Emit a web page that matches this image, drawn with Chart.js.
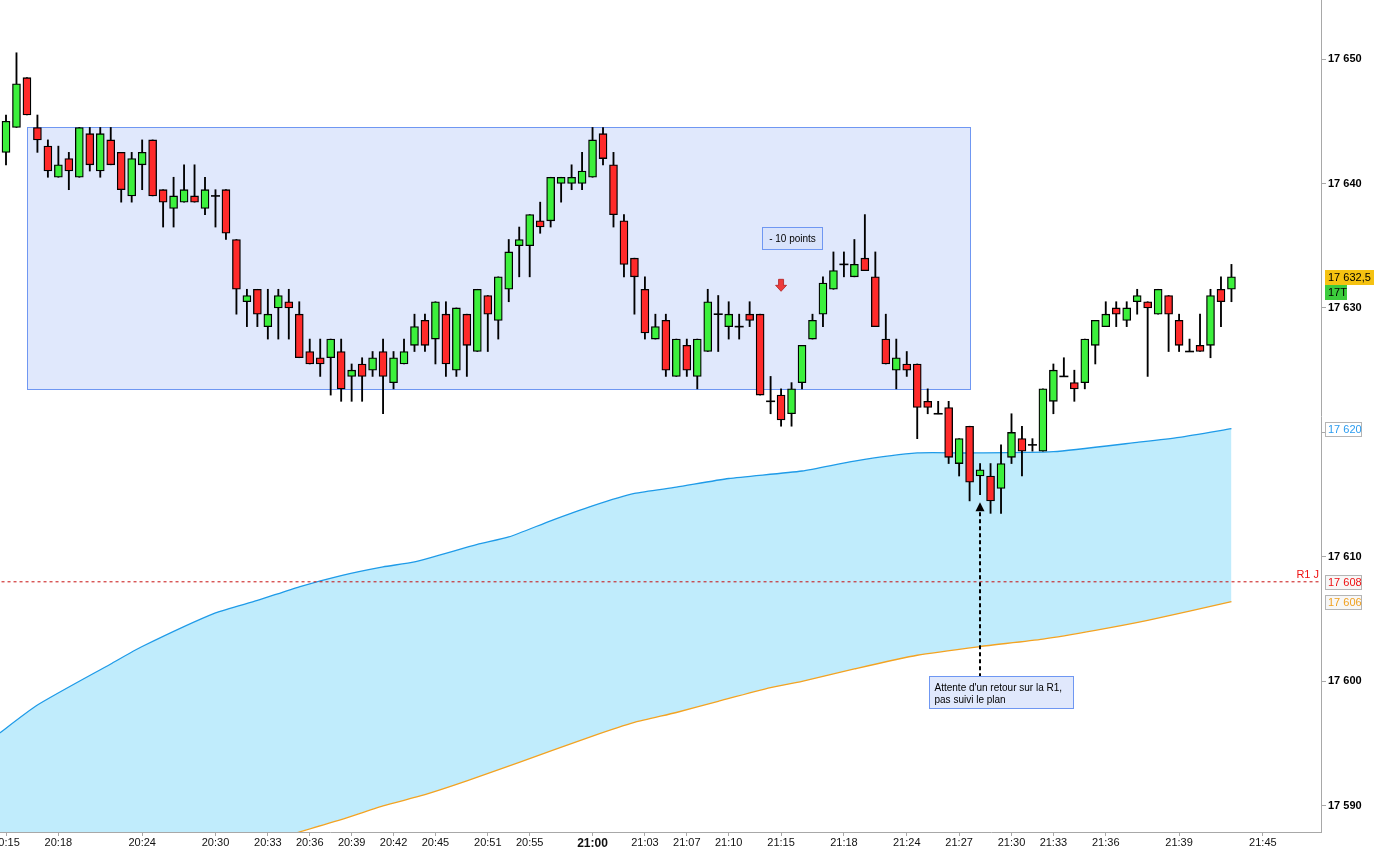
<!DOCTYPE html>
<html><head><meta charset="utf-8">
<script src="https://cdn.jsdelivr.net/npm/chart.js@4.4.1/dist/chart.umd.min.js"></script>
<style>html,body{margin:0;padding:0;background:#fff;overflow:hidden}#wrap{width:1374px;height:847px;position:relative}</style>
</head><body><div id="wrap"><canvas id="c" width="1374" height="847"></canvas></div>
<script>
// ---- Candles (index 0 = 20:15) ----
const opens  = [17642.5,17644.5,17648.5,17644.5,17643,17640.5,17642,17640.5,17644,17641,17643.5,17642.5,17639,17641.5,17643.5,17639.5,17638,17638.5,17639,17638,
17639,17639.5,17635.5,17630.5,17631.5,17628.5,17630,17630.5,17629.5,17626.5,17626,17626,17626.5,17624.5,17625.5,17625,17626.5,17624,17625.5,17627,
17629,17627.5,17629.5,17625,17629.5,17626.5,17631,17629,17631.5,17635,17635,17637,17637,17640,17640,17640,17640.5,17644,17641.5,17637,
17634,17631.5,17627.5,17629,17624.5,17627,17624.5,17626.5,17629.5,17628.5,17628.5,17629.5,17629.5,17622.5,17623,17621.5,17624,17627.5,17629.5,17631.5,
17633.5,17632.5,17634,17632.5,17627.5,17625,17625.5,17625.5,17622.5,17621.5,17622,17617.5,17620.5,17616.5,17616.5,17615.5,17618,17619.5,17619,17618.5,
17622.5,17624.5,17624,17624,17627,17628.5,17630,17629,17630.5,17630.5,17629.5,17631,17629,17626.5,17627,17627,17631.5,17631.5];
const highs  = [17645.5,17650.5,17648.5,17645.5,17643.5,17643,17642.5,17644.5,17644.5,17644.5,17644.5,17642.5,17642.5,17643.5,17643.5,17639.5,17640.5,17641.5,17641.5,17640.5,
17639.5,17639.5,17635.5,17631.5,17631.5,17631.5,17631.5,17631.5,17630.5,17627.5,17627.5,17627.5,17627.5,17625.5,17626,17626.5,17627.5,17626.5,17627.5,17629.5,
17629.5,17630.5,17630.5,17630,17629.5,17631.5,17631,17632.5,17635.5,17636.5,17637.5,17638.5,17640.5,17640.5,17641.5,17642.5,17644.5,17644.5,17642.5,17637.5,
17634,17632.5,17629.5,17629.5,17627.5,17627.5,17627.5,17631.5,17631,17630.5,17629.5,17630.5,17629.5,17624.5,17623.5,17624,17627,17629.5,17632.5,17634.5,
17634.5,17635.5,17637.5,17634.5,17629.5,17627.5,17626.5,17625.5,17623.5,17622.5,17622.5,17619.5,17620.5,17617.5,17617.5,17619,17621.5,17620.5,17619.5,17623.5,
17625.5,17626,17625,17627.5,17629,17630.5,17630.5,17630.5,17631.5,17630.5,17631.5,17631,17629.5,17627.5,17629.5,17631.5,17632.5,17633.5];
const lows   = [17641.5,17644.5,17645.5,17642.5,17640.5,17640.5,17639.5,17640.5,17641,17640.5,17641.5,17638.5,17638.5,17639.5,17639,17636.5,17636.5,17638.5,17638.5,17637.5,
17636.5,17635.5,17629.5,17628.5,17628.5,17627.5,17627.5,17627.5,17626,17625.5,17624.5,17623,17622.5,17622.5,17622.5,17624.5,17621.5,17623.5,17625.5,17626.5,
17626.5,17625.5,17624.5,17624.5,17624.5,17626.5,17626.5,17627.5,17630.5,17632.5,17632.5,17636,17636.5,17638.5,17639.5,17639.5,17640.5,17641.5,17636.5,17632.5,
17629.5,17627.5,17627.5,17624.5,17624.5,17624.5,17623.5,17626.5,17626.5,17627.5,17627.5,17628.5,17623,17621.5,17620.5,17620.5,17623.5,17627.5,17628.5,17631.5,
17632.5,17632.5,17633,17628.5,17625.5,17623.5,17624.5,17619.5,17621.5,17621.5,17617.5,17616.5,17614.5,17615,17613.5,17613.5,17617.5,17616.5,17618.5,17618.5,
17621.5,17624.5,17622.5,17623.5,17625.5,17628.5,17628.5,17628.5,17629.5,17624.5,17629.5,17626.5,17626.5,17626.5,17626.5,17626,17628.5,17630.5];
const closes = [17645,17648,17645.5,17643.5,17641,17641.5,17641,17644.5,17641.5,17644,17641.5,17639.5,17642,17642.5,17639,17638.5,17639,17639.5,17638.5,17639.5,
17639,17636,17631.5,17631,17629.5,17629.5,17631,17630,17626,17625.5,17625.5,17627.5,17623.5,17625,17624.5,17626,17624.5,17626,17626.5,17628.5,
17627,17630.5,17625.5,17630,17627,17631.5,17629.5,17632.5,17634.5,17635.5,17637.5,17636.5,17640.5,17640.5,17640.5,17641,17643.5,17642,17637.5,17633.5,
17632.5,17628,17628.5,17625,17627.5,17625,17627.5,17630.5,17629.5,17629.5,17628.5,17629,17623,17622.5,17621,17623.5,17627,17629,17632,17633,
17633.5,17633.5,17633,17628.5,17625.5,17626,17625,17622,17622,17621.5,17618,17619.5,17616,17617,17614.5,17617.5,17620,17618.5,17619,17623.5,
17625,17624.5,17623.5,17627.5,17629,17629.5,17629.5,17630,17631,17630,17631.5,17629.5,17627,17626.5,17626.5,17631,17630.5,17632.5];

// ---- Axis ticks ----
const xTickIndex  = [0,5,13,20,25,29,33,37,41,46,50,56,61,65,69,74,80,86,91,96,100,105,112,120];
const xTickLabels = ['20:15','20:18','20:24','20:30','20:33','20:36','20:39','20:42','20:45','20:51','20:55','21:00','21:03','21:07','21:10','21:15','21:18','21:24','21:27','21:30','21:33','21:36','21:39','21:45'];
const yTicks = [17590,17600,17610,17620,17630,17640,17650];

// ---- Bands (read at sample positions) ----
const upperIdx = [-1,3,10,13,20,24,28,32,36,39,45,48,52,56,60,64,69,76,81,87,92,100,108,112,117];
const upperVal = [17595.6,17598.1,17601.4,17602.8,17605.5,17606.5,17607.6,17608.5,17609.2,17609.6,17611.0,17611.6,17612.9,17614.1,17615.1,17615.6,17616.3,17616.9,17617.7,17618.35,17618.35,17618.45,17619.2,17619.6,17620.3];
const lowerIdx = [-1,10,20,28,32,36,40,44,49,56,60,64,68,73,76,81,87,93,99,104,109,117];
const lowerVal = [17580.8,17583.2,17585.6,17587.9,17588.9,17590.0,17590.9,17592.0,17593.5,17595.6,17596.7,17597.5,17598.4,17599.5,17600.0,17601.0,17602.1,17602.8,17603.4,17604.1,17604.9,17606.4];
const r1Level = 17608;

// ---- Annotations (data units) ----
const zone = {x0:2, x1:92, top:17644.5, bottom:17623.5};
const noteTop = {x0:72.2, x1:77.9, top:17636.5, bottom:17634.75, text:'- 10 points'};
const redArrow = {x:74, y:17632.3};
const noteBottom = {x0:88.1, x1:101.9, top:17600.45, bottom:17597.85, lines:["Attente d'un retour sur la R1,", 'pas suivi le plan']};
const upArrow = {x:93, y:17614.4};

const GREEN='#3cf03c', RED='#ff2a2a';
const FONT='"Liberation Sans", Arial, sans-serif';
const N = opens.length;
const bodyData=[], wickData=[], dojiData=[];
for (let i=0;i<N;i++){
  wickData.push({x:i, y:[lows[i], highs[i]]});
  if (opens[i]===closes[i]) dojiData.push({x:i, y:opens[i]});
  else bodyData.push({x:i, y:[opens[i], closes[i]]});
}
const fmt = v => { const s = String(v).replace('.', ','); const [a,b] = s.split(','); return a.replace(/\B(?=(\d{3})+(?!\d))/g,' ') + (b?','+b:''); };

const annot = {
  id:'annot',
  beforeDatasetsDraw(chart){
    const {ctx, scales:{x,y}} = chart;
    ctx.save();
    const l=Math.round(x.getPixelForValue(zone.x0))+0.5, r=Math.round(x.getPixelForValue(zone.x1))+0.5;
    const t=Math.round(y.getPixelForValue(zone.top))+0.5, b=Math.round(y.getPixelForValue(zone.bottom))+0.5;
    ctx.fillStyle='#e0e8fc'; ctx.fillRect(l,t,r-l,b-t);
    ctx.strokeStyle='#6f97f2'; ctx.lineWidth=1; ctx.strokeRect(l,t,r-l,b-t);
    ctx.restore();
  },
  afterDatasetsDraw(chart){
    const {ctx, scales:{x,y}} = chart;
    ctx.save();
    // top note
    let l=Math.round(x.getPixelForValue(noteTop.x0))+0.5, r=Math.round(x.getPixelForValue(noteTop.x1))+0.5;
    let t=Math.round(y.getPixelForValue(noteTop.top))+0.5, b=Math.round(y.getPixelForValue(noteTop.bottom))+0.5;
    ctx.fillStyle='#d9e3fb'; ctx.fillRect(l,t,r-l,b-t);
    ctx.strokeStyle='#6f97f2'; ctx.lineWidth=1; ctx.strokeRect(l,t,r-l,b-t);
    ctx.fillStyle='#000'; ctx.font='10px '+FONT; ctx.textAlign='center'; ctx.textBaseline='middle';
    ctx.fillText(noteTop.text,(l+r)/2,(t+b)/2+1);
    // red arrow
    const ax=x.getPixelForValue(redArrow.x), ay=y.getPixelForValue(redArrow.y);
    ctx.beginPath();
    ctx.moveTo(ax-2.5,ay); ctx.lineTo(ax+2.5,ay); ctx.lineTo(ax+2.5,ay+6); ctx.lineTo(ax+5.5,ay+6);
    ctx.lineTo(ax,ay+12); ctx.lineTo(ax-5.5,ay+6); ctx.lineTo(ax-2.5,ay+6); ctx.closePath();
    ctx.fillStyle='#ee3b3b'; ctx.fill(); ctx.strokeStyle='#b02020'; ctx.lineWidth=0.8; ctx.stroke();
    // bottom note
    l=Math.round(x.getPixelForValue(noteBottom.x0))+0.5; r=Math.round(x.getPixelForValue(noteBottom.x1))+0.5;
    t=Math.round(y.getPixelForValue(noteBottom.top))+0.5; b=Math.round(y.getPixelForValue(noteBottom.bottom))+0.5;
    // dashed line
    const ux=Math.round(x.getPixelForValue(upArrow.x)), uy=y.getPixelForValue(upArrow.y);
    ctx.strokeStyle='#000'; ctx.lineWidth=2; ctx.setLineDash([4,3]);
    ctx.beginPath(); ctx.moveTo(ux,uy+10); ctx.lineTo(ux,t); ctx.stroke(); ctx.setLineDash([]);
    ctx.beginPath(); ctx.moveTo(ux,uy); ctx.lineTo(ux+4.5,uy+9); ctx.lineTo(ux-4.5,uy+9); ctx.closePath(); ctx.fillStyle='#000'; ctx.fill();
    ctx.fillStyle='#e0e8fc'; ctx.fillRect(l,t,r-l,b-t);
    ctx.strokeStyle='#6f97f2'; ctx.lineWidth=1; ctx.strokeRect(l,t,r-l,b-t);
    ctx.fillStyle='#000'; ctx.font='10px '+FONT; ctx.textAlign='left'; ctx.textBaseline='middle';
    ctx.fillText(noteBottom.lines[0], l+5, t+12);
    ctx.fillText(noteBottom.lines[1], l+5, t+24);
    ctx.restore();
  },
  afterDraw(chart){
    const {ctx, scales:{y}} = chart;
    ctx.save();
    ctx.font='11px '+FONT; ctx.textBaseline='middle'; ctx.textAlign='left';
    const box=(val,text,bg,fg,border,w,dy=0)=>{
      const cy=Math.round(y.getPixelForValue(val))+dy;
      const x0=1325, h=15, top=cy-7;
      ctx.fillStyle=bg; ctx.fillRect(x0,top,w,h);
      if(border){ctx.strokeStyle=border; ctx.lineWidth=1; ctx.strokeRect(x0+0.5,top+0.5,w-1,h-1);}
      ctx.fillStyle=fg; ctx.fillText(text,x0+3,cy+1);
    };
    const last=closes[N-1];
    box(last, fmt(last), '#f5c211', '#000', null, 49);
    box(last, '17T', '#3ccc3c', '#000', null, 22, 15);
    box(upperVal[upperVal.length-1], fmt(Math.round(upperVal[upperVal.length-1])), '#ffffff', '#2b9cf0', '#b5b5b5', 37);
    box(r1Level, fmt(r1Level), '#f7f7f7', '#ee1111', '#b5b5b5', 37);
    box(lowerVal[lowerVal.length-1], fmt(Math.round(lowerVal[lowerVal.length-1])), '#f7f7f7', '#f0a020', '#b5b5b5', 37);
    ctx.fillStyle='#ee1111'; ctx.textAlign='right';
    ctx.fillText('R1 J', 1319, Math.round(y.getPixelForValue(r1Level))-7);
    ctx.restore();
  }
};

new Chart(document.getElementById('c'), {
  type:'bar',
  data:{ datasets:[
    {type:'bar', data:bodyData, barThickness:8, grouped:false, borderWidth:1.3, borderColor:'#000', borderSkipped:false,
     backgroundColor:c=>{const r=c.raw; return r && r.y[1]>r.y[0]?GREEN:RED;}},
    {type:'line', data:dojiData, showLine:false, pointStyle:'line', pointRadius:4.5, pointBorderWidth:1.6, pointBorderColor:'#000', borderColor:'#000'},
    {type:'bar', data:wickData, barThickness:1.2, grouped:false, backgroundColor:'#000', borderWidth:0},
    {type:'line', data:[{x:-1,y:r1Level},{x:127,y:r1Level}], borderColor:'#c81010', borderWidth:1, borderDash:[3,3], pointRadius:0, fill:false},
    {type:'line', data:lowerIdx.map((v,i)=>({x:v,y:lowerVal[i]})), borderColor:'#f3a322', borderWidth:1.3, pointRadius:0, fill:false, tension:0.2},
    {type:'line', data:upperIdx.map((v,i)=>({x:v,y:upperVal[i]})), borderColor:'#1f9be8', borderWidth:1.3, pointRadius:0, fill:'-1', backgroundColor:'#c0ecfc', tension:0.2}
  ]},
  options:{
    responsive:false, animation:false, devicePixelRatio:1, events:[],
    layout:{padding:0, autoPadding:false},
    plugins:{legend:{display:false}, tooltip:{enabled:false}},
    scales:{
      x:{type:'linear', min:-0.573, max:125.55, offset:false,
        grid:{drawOnChartArea:false, offset:false, tickLength:4, color:'#a8a8a8'},
        border:{display:true, color:'#a8a8a8'},
        afterBuildTicks:s=>{s.ticks=xTickIndex.map(v=>({value:v}));},
        afterFit:s=>{s.height=15; s.paddingLeft=0; s.paddingRight=0;},
        ticks:{autoSkip:false, maxRotation:0, minRotation:0, padding:0, color:'#111',
          font:c=>({family:FONT, size: (c.tick && c.tick.value===56)?12:11, weight:(c.tick && c.tick.value===56)?'bold':'normal'}),
          callback:v=>{const k=xTickIndex.indexOf(v); return k>=0?xTickLabels[k]:'';}}},
      y:{type:'linear', position:'right', min:17587.9, max:17654.74,
        grid:{drawOnChartArea:false, offset:false, tickLength:5, color:'#a8a8a8'},
        border:{display:true, color:'#a8a8a8'},
        afterBuildTicks:s=>{s.ticks=yTicks.map(v=>({value:v}));},
        afterFit:s=>{s.width=53; s.paddingTop=0; s.paddingBottom=0;},
        ticks:{padding:2, color:'#000', font:{family:FONT, size:11, weight:'bold'}, callback:v=>fmt(v)}}
    }
  },
  plugins:[annot]
});
</script></body></html>
